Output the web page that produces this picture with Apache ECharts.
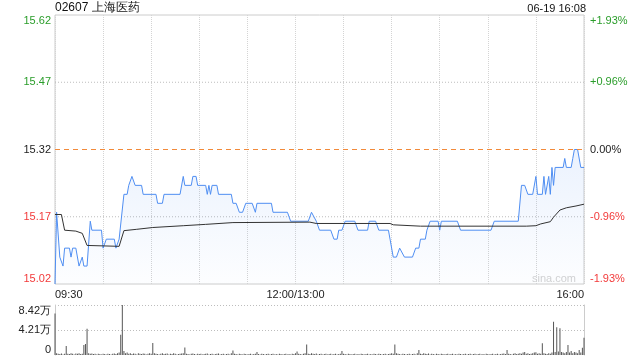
<!DOCTYPE html>
<html><head><meta charset="utf-8">
<script src="https://cdn.jsdelivr.net/npm/echarts@6/dist/echarts.min.js"></script>
<style>html,body{margin:0;padding:0;background:#fff}#c{width:640px;height:360px}</style>
</head><body><div id="c"></div>
<script>
const titleText = '02607 上海医药';
const stampText = '06-19 16:08';
const watermark = 'sina.com';
const prevClose = 15.32;
const priceMin = 15.02, priceMax = 15.62, priceStep = 0.15;
const leftTickLabels = ['15.02', '15.17', '15.32', '15.47', '15.62'];
const rightTickLabels = ['-1.93%', '-0.96%', '0.00%', '+0.96%', '+1.93%'];
const guideTickIndexes = [1, 3];
const timeStart = 0, timeEnd = 330, timeStep = 30;
const timeTickMinutes = [0, 150, 330];
const timeTickLabels = ['09:30', '12:00/13:00', '16:00'];

const priceMinutes = [0,1,2,3,4,5,6,9,10,11,13,15,16,17,18,20,22,23,29,30,32,37,38,40,43,45,46,47,48,49,50,54,55,63,64,67,68,78,80,81,85,86,88,89,94,95,96,97,98,101,102,110,111,113,115,117,119,123,125,126,135,136,145,147,158,160,161,163,165,172,174,176,177,179,181,187,189,195,196,200,202,208,209,211,213,215,216,218,223,225,227,228,231,232,234,239,240,241,251,253,272,274,289,291,293,295,298,300,301,304,305,306,307,308,309,310,311,312,317,318,319,322,323,324,326,328,330];
const prices = [15.02,15.18,15.18,15.08,15.08,15.06,15.10,15.10,15.08,15.10,15.10,15.06,15.06,15.08,15.06,15.06,15.16,15.14,15.14,15.10,15.12,15.12,15.10,15.12,15.22,15.22,15.24,15.24,15.26,15.26,15.24,15.24,15.22,15.22,15.20,15.20,15.22,15.22,15.26,15.24,15.24,15.26,15.26,15.24,15.24,15.22,15.24,15.22,15.24,15.24,15.22,15.22,15.20,15.20,15.18,15.18,15.20,15.20,15.18,15.20,15.20,15.18,15.18,15.16,15.16,15.18,15.18,15.16,15.14,15.14,15.12,15.12,15.14,15.14,15.16,15.16,15.14,15.14,15.16,15.16,15.14,15.14,15.12,15.08,15.08,15.10,15.10,15.08,15.08,15.10,15.10,15.12,15.12,15.14,15.16,15.16,15.14,15.16,15.16,15.14,15.14,15.16,15.16,15.24,15.24,15.22,15.22,15.26,15.22,15.22,15.26,15.22,15.22,15.26,15.22,15.28,15.24,15.28,15.28,15.30,15.28,15.28,15.30,15.32,15.32,15.28,15.28];

const avgMinutes = [0,4,6,13,17,20,40,43,51,61,80,94,111,159,163,209,211,228,294,300,303,309,311,315,319,325,330];
const avgPrices = [15.175,15.175,15.140,15.138,15.133,15.106,15.104,15.139,15.142,15.146,15.150,15.153,15.157,15.158,15.155,15.155,15.152,15.149,15.149,15.150,15.154,15.159,15.169,15.185,15.190,15.194,15.198];

const volMax = 8.42, volStep = 4.21;
const volTickLabels = ['0', '4.21万', '8.42万'];
const volumes = [
7.0,0.3,0.2,0.15,0.25,0.1,0.2,1.5,0.2,0.15,0.3,0.2,0.1,0.25,0.2,0.3,0.15,0.2,1.7,1.85,
4.4,0.3,0.2,0.25,0.15,0.2,0.1,0.2,0.15,0.1,0.2,0.15,0.1,0.2,0.15,0.1,0.2,0.25,0.15,0.3,
0.4,3.4,8.42,0.67,0.3,0.4,0.2,0.3,0.15,0.25,0.2,0.1,0.3,0.2,0.15,0.25,0.2,0.1,0.2,0.3,
0.2,2.0,0.3,0.2,0.15,0.1,0.2,0.3,0.15,0.2,0.25,0.1,0.2,0.15,0.3,0.2,0.1,0.15,0.2,0.25,
0.3,1.25,0.2,0.15,0.1,0.2,0.25,0.15,0.1,0.2,0.15,0.2,0.1,0.15,0.2,0.25,0.1,0.15,0.2,0.1,
0.15,0.2,0.25,0.1,0.15,0.2,0.1,0.15,0.2,0.1,0.3,0.75,0.2,0.15,0.1,0.2,0.15,0.1,0.2,0.15,
0.1,0.15,0.2,0.1,0.15,0.2,0.5,0.15,0.1,0.2,0.15,0.1,0.15,0.2,0.1,0.15,0.2,0.1,0.15,0.1,
0.2,0.15,0.1,0.15,0.2,0.1,0.15,0.1,0.2,0.15,0.3,0.6,0.2,0.15,0.1,0.2,0.3,1.75,0.2,0.15,
0.3,0.2,0.15,0.25,0.1,0.15,0.2,0.1,0.15,0.2,0.1,0.15,0.2,0.1,0.15,0.2,0.1,0.15,0.2,0.67,
0.2,0.15,0.1,0.2,0.15,0.1,0.15,0.2,0.1,0.15,0.1,0.2,0.15,0.1,0.15,0.2,0.1,0.15,0.1,0.2,
0.15,0.1,0.2,0.15,0.1,0.15,0.2,0.1,0.15,0.2,0.3,0.2,1.75,0.3,0.2,0.15,0.1,0.2,0.15,0.1,
0.15,0.2,0.1,0.15,0.2,0.1,0.3,0.84,0.2,0.15,0.3,0.2,0.15,0.25,0.1,0.2,0.15,0.1,0.2,0.15,
0.1,0.2,0.15,0.1,0.15,0.2,0.1,0.15,0.2,0.1,0.15,0.1,0.2,0.15,0.1,0.15,0.2,0.1,0.15,0.2,
0.1,0.15,0.2,0.1,0.15,0.2,0.1,0.15,0.1,0.2,0.15,0.1,0.15,0.2,0.1,0.15,0.2,0.1,0.15,0.2,
0.25,0.15,0.84,0.2,0.15,0.1,0.2,0.3,0.15,0.2,0.3,0.2,0.4,0.5,0.2,0.3,0.15,0.2,0.3,0.4,
0.45,0.2,0.3,0.2,1.96,0.3,0.2,0.15,0.3,0.2,0.4,5.6,0.5,4.66,0.6,4.5,0.5,0.4,0.3,0.5,
1.68,0.4,0.67,0.3,0.5,0.4,0.3,0.84,0.4,1.23,2.9
];

const GREEN = '#2a9d2a', RED = '#f23a3a', DARK = '#222';
const FONT = 'Liberation Sans, Arial, sans-serif';

const priceData = priceMinutes.map((m, i) => [m, prices[i]]);
const avgData = avgMinutes.map((m, i) => [m, avgPrices[i]]);
const volData = volumes.map((v, i) => [i, v]);
const prevCloseData = [[timeStart, prevClose], [timeEnd, prevClose]];
const guideSeries = guideTickIndexes.map(k => {
  const v = priceMin + k * priceStep;
  return {type: 'line', xAxisIndex: 0, yAxisIndex: 0, data: [[timeStart, v], [timeEnd, v]],
    symbol: 'none', silent: true, lineStyle: {color: '#bdbdbd', type: [1, 2], width: 1}, z: 1};
});

function tickIndex(v) { return Math.round((v - priceMin) / priceStep); }
function tickColor(v) {
  const i = tickIndex(v);
  return i < 2 ? RED : (i === 2 ? DARK : GREEN);
}

const chart = echarts.init(document.getElementById('c'), null, {renderer: 'canvas'});
chart.setOption({
  animation: false,
  backgroundColor: '#fff',
  textStyle: {fontFamily: FONT},
  graphic: [
    {type: 'text', left: 55, top: 2, style: {text: titleText, font: '12px ' + FONT, fill: '#111'}},
    {type: 'text', right: 54, top: 3, style: {text: stampText, font: '11px ' + FONT, fill: '#111'}},
    {type: 'text', left: 532, top: 273, style: {text: watermark, font: '11px ' + FONT, fill: '#d2d2d2'}}
  ],
  grid: [
    {left: 55, right: 56, top: 15, height: 269, show: true, borderColor: '#ccc', borderWidth: 1},
    {left: 55, right: 56, top: 305, height: 50}
  ],
  xAxis: [
    {type: 'value', gridIndex: 0, min: timeStart, max: timeEnd, interval: timeStep,
      axisLine: {show: false}, axisTick: {show: false},
      splitLine: {show: true, lineStyle: {color: '#d4d4d4', type: 'dotted'}},
      axisLabel: {show: true, margin: 5, color: DARK, fontSize: 11, fontFamily: FONT,
        alignMinLabel: 'left', alignMaxLabel: 'right',
        formatter: v => { const k = timeTickMinutes.indexOf(Math.round(v)); return k >= 0 ? timeTickLabels[k] : ''; }}},
    {type: 'value', gridIndex: 1, min: timeStart, max: timeEnd, interval: timeStep,
      axisLine: {show: false}, axisTick: {show: false}, axisLabel: {show: false}, splitLine: {show: false}}
  ],
  yAxis: [
    {type: 'value', gridIndex: 0, min: priceMin, max: priceMax, interval: priceStep,
      axisLine: {show: false}, axisTick: {show: false}, splitLine: {show: false},
      axisLabel: {margin: 4, fontSize: 11, fontFamily: FONT, color: v => tickColor(v),
        verticalAlignMinLabel: 'bottom', verticalAlignMaxLabel: 'top',
        formatter: v => leftTickLabels[tickIndex(v)]}},
    {type: 'value', gridIndex: 0, position: 'right', min: priceMin, max: priceMax, interval: priceStep,
      axisLine: {show: false}, axisTick: {show: false}, splitLine: {show: false},
      axisLabel: {margin: 6, fontSize: 11, fontFamily: FONT, color: v => tickColor(v),
        verticalAlignMinLabel: 'bottom', verticalAlignMaxLabel: 'top',
        formatter: v => rightTickLabels[tickIndex(v)]}},
    {type: 'value', gridIndex: 1, min: 0, max: volMax, interval: volStep,
      axisLine: {show: true, lineStyle: {color: '#ccc'}}, axisTick: {show: false},
      splitLine: {show: true, showMinLine: false, lineStyle: {color: '#bdbdbd', type: [1, 2]}},
      axisLabel: {margin: 4, fontSize: 11, fontFamily: FONT, color: DARK,
        verticalAlignMinLabel: 'bottom', verticalAlignMaxLabel: 'top',
        formatter: v => volTickLabels[Math.round(v / volStep)]}},
    {type: 'value', gridIndex: 1, position: 'right', min: 0, max: volMax, interval: volStep,
      axisLine: {show: true, lineStyle: {color: '#ccc'}}, axisTick: {show: false},
      axisLabel: {show: false}, splitLine: {show: false}}
  ],
  series: guideSeries.concat([
    {type: 'line', xAxisIndex: 0, yAxisIndex: 0, data: prevCloseData, symbol: 'none', silent: true,
      lineStyle: {color: '#f28a3a', type: [5, 4], width: 1}, z: 5},
    {type: 'line', xAxisIndex: 0, yAxisIndex: 0, data: priceData, symbol: 'none',
      lineStyle: {color: '#4f8ef2', width: 1},
      areaStyle: {origin: 'start', color: new echarts.graphic.LinearGradient(0, 0, 0, 1, [
        {offset: 0, color: 'rgba(79,142,242,0.16)'}, {offset: 1, color: 'rgba(79,142,242,0.02)'}])},
      z: 3},
    {type: 'line', xAxisIndex: 0, yAxisIndex: 0, data: avgData, symbol: 'none',
      lineStyle: {color: '#333', width: 1}, z: 4},
    {type: 'bar', xAxisIndex: 1, yAxisIndex: 2, data: volData, barWidth: 1,
      itemStyle: {color: '#555'}}
  ])
});
</script></body></html>
